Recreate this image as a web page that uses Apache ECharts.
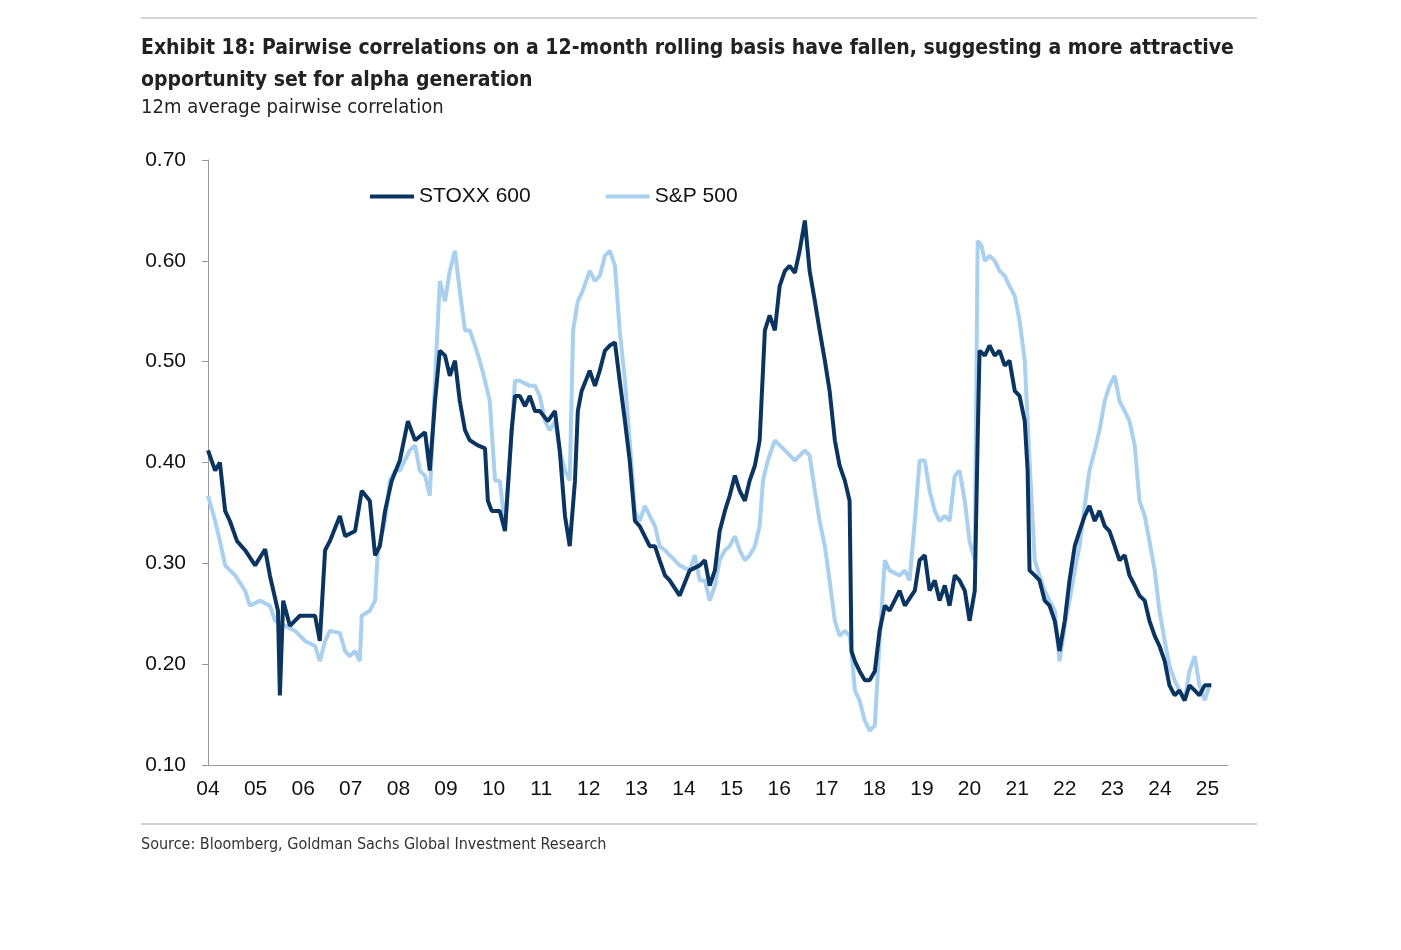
<!DOCTYPE html>
<html><head><meta charset="utf-8">
<script src="https://cdn.jsdelivr.net/npm/echarts@6/dist/echarts.min.js"></script>
<style>html,body{margin:0;padding:0;background:#fff}#c{width:1401px;height:950px}</style>
</head><body><div id="c"></div>
<script>
const stoxxYrs=[0.00,.15,.25,.36,.46,.61,.78,.99,1.20,1.30,1.47,1.51,1.58,1.72,1.93,2.25,2.35,2.46,2.56,2.77,2.88,3.09,3.23,3.40,3.51,3.61,3.72,3.86,4.03,4.20,4.35,4.56,4.66,4.77,4.87,4.98,5.08,5.19,5.29,5.40,5.50,5.67,5.82,5.88,5.96,6.13,6.24,6.38,6.45,6.55,6.66,6.76,6.87,6.97,7.14,7.29,7.39,7.50,7.60,7.71,7.77,7.85,8.02,8.13,8.23,8.34,8.44,8.55,8.65,8.76,8.86,8.97,9.07,9.28,9.39,9.49,9.60,9.70,9.91,10.12,10.33,10.44,10.54,10.65,10.75,10.86,10.96,11.07,11.17,11.28,11.38,11.49,11.59,11.70,11.80,11.91,12.01,12.12,12.22,12.33,12.43,12.54,12.64,12.75,12.85,12.96,13.06,13.17,13.27,13.38,13.48,13.52,13.59,13.69,13.80,13.90,14.01,14.11,14.22,14.32,14.53,14.64,14.85,14.95,15.06,15.16,15.27,15.37,15.48,15.58,15.69,15.79,15.90,16.00,16.11,16.17,16.21,16.32,16.42,16.53,16.63,16.74,16.84,16.95,17.05,17.16,17.22,17.26,17.37,17.47,17.58,17.68,17.79,17.89,18.00,18.10,18.21,18.31,18.42,18.52,18.63,18.73,18.84,18.94,19.05,19.15,19.26,19.36,19.47,19.57,19.68,19.78,19.89,19.99,20.10,20.20,20.31,20.41,20.52,20.62,20.73,20.83,20.94,21.08];
const stoxxVals=[.412,.392,.400,.352,.342,.322,.313,.298,.314,.288,.253,.169,.263,.238,.248,.248,.223,.313,.322,.347,.327,.332,.372,.362,.308,.317,.352,.382,.402,.441,.422,.430,.392,.461,.511,.506,.486,.501,.461,.432,.422,.417,.414,.362,.352,.352,.332,.432,.466,.466,.456,.466,.451,.451,.441,.451,.412,.347,.317,.382,.451,.471,.491,.476,.491,.511,.516,.519,.481,.441,.402,.342,.337,.317,.317,.303,.288,.283,.268,.293,.298,.303,.278,.293,.332,.352,.367,.387,.372,.362,.382,.397,.422,.531,.546,.531,.575,.590,.595,.588,.610,.640,.590,.560,.531,.501,.471,.422,.397,.382,.362,.213,.203,.193,.184,.184,.193,.233,.258,.253,.273,.258,.273,.303,.308,.273,.283,.263,.278,.258,.288,.283,.273,.243,.273,.422,.511,.506,.516,.506,.511,.496,.501,.471,.466,.441,.392,.293,.288,.283,.263,.258,.243,.213,.243,.283,.317,.332,.347,.357,.342,.352,.337,.332,.317,.303,.308,.288,.278,.268,.263,.243,.228,.218,.203,.179,.169,.174,.164,.179,.174,.169,.179,.179];
const spxYrs=[0.00,.15,.25,.36,.57,.78,.88,1.09,1.30,1.41,1.62,1.83,2.04,2.25,2.35,2.46,2.56,2.77,2.88,2.98,3.09,3.19,3.23,3.40,3.51,3.57,3.72,3.82,3.93,4.03,4.24,4.35,4.45,4.56,4.66,4.77,4.87,4.98,5.08,5.19,5.29,5.40,5.50,5.61,5.71,5.82,5.92,6.03,6.13,6.24,6.34,6.45,6.55,6.76,6.87,6.97,7.08,7.18,7.29,7.39,7.50,7.60,7.67,7.77,7.87,8.02,8.13,8.23,8.34,8.44,8.55,8.65,8.76,8.86,8.97,9.07,9.18,9.28,9.39,9.49,9.60,9.70,9.81,9.91,10.12,10.23,10.33,10.44,10.54,10.65,10.75,10.86,10.96,11.07,11.17,11.28,11.38,11.49,11.59,11.66,11.76,11.91,12.12,12.33,12.54,12.64,12.75,12.85,12.96,13.06,13.17,13.27,13.38,13.48,13.52,13.59,13.69,13.80,13.90,14.01,14.11,14.22,14.32,14.53,14.64,14.74,14.85,14.95,15.06,15.16,15.27,15.37,15.48,15.58,15.69,15.79,15.90,16.00,16.11,16.17,16.25,16.32,16.42,16.53,16.63,16.74,16.84,16.95,17.05,17.16,17.26,17.37,17.47,17.58,17.68,17.79,17.89,18.00,18.10,18.21,18.31,18.42,18.52,18.63,18.73,18.84,18.94,19.05,19.15,19.26,19.36,19.47,19.57,19.68,19.78,19.89,19.99,20.10,20.20,20.31,20.41,20.52,20.62,20.73,20.83,20.94,21.04];
const spxVals=[.367,.342,.322,.298,.288,.273,.258,.263,.258,.243,.238,.233,.223,.218,.203,.223,.233,.231,.213,.208,.213,.203,.248,.253,.263,.313,.342,.382,.392,.392,.412,.417,.392,.387,.367,.481,.580,.560,.590,.610,.570,.531,.531,.516,.501,.481,.461,.382,.382,.337,.402,.481,.481,.476,.476,.466,.441,.432,.441,.412,.392,.382,.531,.560,.570,.590,.580,.585,.605,.610,.595,.531,.481,.422,.352,.342,.357,.347,.337,.317,.313,.308,.303,.298,.293,.308,.283,.283,.263,.278,.303,.313,.317,.327,.313,.303,.308,.317,.337,.382,.402,.422,.412,.402,.412,.407,.372,.342,.317,.283,.243,.228,.233,.228,.213,.174,.164,.144,.134,.139,.223,.303,.293,.288,.293,.283,.342,.402,.402,.372,.352,.342,.347,.342,.387,.392,.362,.322,.303,.620,.615,.600,.605,.600,.590,.585,.575,.565,.541,.501,.402,.303,.288,.273,.263,.253,.203,.238,.263,.293,.317,.357,.392,.412,.432,.461,.476,.486,.461,.451,.441,.417,.362,.347,.322,.293,.253,.223,.198,.184,.174,.164,.193,.208,.179,.164,.179];
const yTicks=[0.10,0.20,0.30,0.40,0.50,0.60,0.70];
const BASE=2004;
const toPairs=(xs,vs)=>xs.map((x,i)=>[BASE+x,vs[i]]);
const F='"DejaVu Sans Condensed","Liberation Sans",Arial,sans-serif';
const chart=echarts.init(document.getElementById('c'));
chart.setOption({
 animation:false,
 graphic:[
  {type:'line',shape:{x1:141,y1:18,x2:1257,y2:18},style:{stroke:'#aaa',lineWidth:1}},
  {type:'line',shape:{x1:141,y1:824,x2:1257,y2:824},style:{stroke:'#aaa',lineWidth:1}},
  {type:'text',left:141,top:33,style:{text:'Exhibit 18: Pairwise correlations on a 12-month rolling basis have fallen, suggesting a more attractive\nopportunity set for alpha generation',font:'bold 21px '+F,fill:'#222',lineHeight:32}},
  {type:'text',left:141,top:98,style:{text:'12m average pairwise correlation',font:'20px '+F,fill:'#222'}},
  {type:'text',left:141,top:837,style:{text:'Source: Bloomberg, Goldman Sachs Global Investment Research',font:'16px '+F,fill:'#333'}}
 ],
 legend:{top:181,left:365,itemWidth:44,itemGap:75,icon:'rect',itemHeight:4,textStyle:{fontSize:21,fontFamily:'Arial,Liberation Sans',color:'#111'},data:['STOXX 600','S&P 500']},
 grid:{left:208,right:173,top:160,bottom:185},
 xAxis:{type:'value',min:2004,max:2025.43,interval:1,
  axisLine:{lineStyle:{color:'#999'}},axisTick:{show:false},splitLine:{show:false},
  axisLabel:{fontSize:21,color:'#111',fontFamily:'Arial,Liberation Sans',margin:14,showMaxLabel:false,
   formatter:v=>String(Math.round(v)%100).padStart(2,'0')}},
 yAxis:{type:'value',min:yTicks[0],max:yTicks[yTicks.length-1],interval:0.1,
  axisLine:{show:true,lineStyle:{color:'#999'}},axisTick:{show:true,length:6,lineStyle:{color:'#999'}},splitLine:{show:false},
  axisLabel:{fontSize:21,color:'#111',fontFamily:'Arial,Liberation Sans',margin:22,formatter:v=>v.toFixed(2)}},
 series:[
  {name:'S&P 500',type:'line',showSymbol:false,data:toPairs(spxYrs,spxVals),lineStyle:{color:'#a9d0ee',width:4},itemStyle:{color:'#a9d0ee'},z:2},
  {name:'STOXX 600',type:'line',showSymbol:false,data:toPairs(stoxxYrs,stoxxVals),lineStyle:{color:'#0b3561',width:4},itemStyle:{color:'#0b3561'},z:3}
 ]
});
</script></body></html>
